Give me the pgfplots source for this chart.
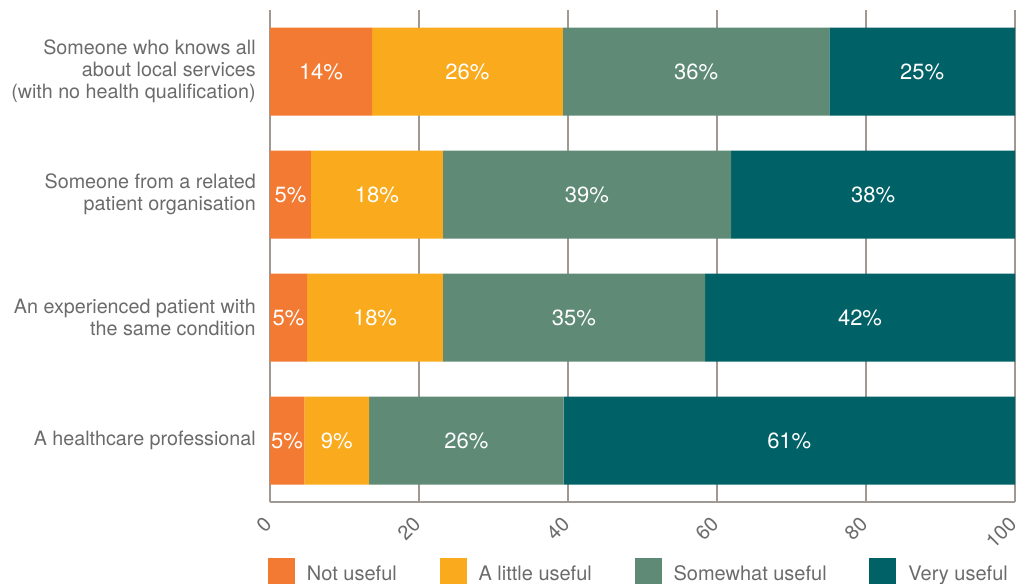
\documentclass[border=0pt]{standalone}
\usepackage{pgfplots}
\pgfplotsset{compat=1.18}
\usepackage{pgfplotstable}
\usepackage{fontspec}
\setmainfont{TeX Gyre Heros}
\definecolor{cOrange}{HTML}{F37A33}
\definecolor{cYellow}{HTML}{F9AB1D}
\definecolor{cGreen}{HTML}{5E8A76}
\definecolor{cTeal}{HTML}{006166}
\definecolor{cText}{HTML}{6B6B6B}
\definecolor{cGrid}{HTML}{A09893}

\pgfplotstableread{
y v lab
3 13.7 14
2 5.5 5
1 5.0 5
0 4.6 5
}\tA
\pgfplotstableread{
y v lab
3 25.6 26
2 17.7 18
1 18.2 18
0 8.7 9
}\tB
\pgfplotstableread{
y v lab
3 35.8 36
2 38.7 39
1 35.2 35
0 26.1 26
}\tC
\pgfplotstableread{
y v lab
3 24.9 25
2 38.1 38
1 41.6 42
0 60.6 61
}\tD

\begin{document}
\begin{tikzpicture}
\useasboundingbox (-202.5pt,-60.75pt) rectangle (571.5pt,376.5pt);
\begin{axis}[
  at={(0pt,0pt)}, anchor=south west,
  scale only axis, width=558.75pt, height=369pt,
  xbar stacked, bar width=66pt,
  xmin=0, xmax=100, ymin=-0.5, ymax=3.5,
  xtick={0,20,40,60,80,100}, ytick={0,1,2,3},
  yticklabels={A healthcare professional,
    An experienced patient with\\the same condition,
    Someone from a related\\patient organisation,
    Someone who knows all\\about local services\\(with no health qualification)},
  axis x line*=bottom, axis y line*=left,
  axis line style={cGrid, line width=1pt},
  xmajorgrids, grid style={cGrid, line width=1pt},
  major tick length=0pt,
  tick style={draw=none},
  /pgf/number format/assume math mode=true,
  xticklabel style={xshift=-1.5pt, yshift=-14pt, rotate=45, anchor=east, inner sep=0pt,
    font=\fontsize{15}{18}\selectfont, text=cText},
  yticklabel style={align=right, inner sep=0pt, xshift=-10.5pt,
    font=\fontsize{14.8}{16.5}\selectfont, text=cText},
  nodes near coords={\pgfplotspointmeta\%},
  point meta=explicit symbolic,
  nodes near coords align=center,
  every node near coord/.append style={anchor=center,
    text=white, font=\fontsize{16.5}{18}\selectfont},
  legend columns=4,
  legend image code/.code={\fill[#1] (0pt,-8.4pt) rectangle (20.25pt,11.9pt);},
  legend style={at={(0,0)}, anchor=north west, xshift=-1.5pt, yshift=-42pt,
    draw=none, fill=none, inner sep=0pt, outer sep=0pt,
    nodes={inner sep=0pt, text=cText, font=\fontsize{15}{18}\selectfont},
    /tikz/every odd column/.append style={column sep=9pt},
    /tikz/every even column/.append style={column sep=32pt}},
]
\addplot[fill=cOrange, draw=none] table[x=v,y=y,meta=lab]{\tA};
\addplot[fill=cYellow, draw=none] table[x=v,y=y,meta=lab]{\tB};
\addplot[fill=cGreen, draw=none] table[x=v,y=y,meta=lab]{\tC};
\addplot[fill=cTeal, draw=none] table[x=v,y=y,meta=lab]{\tD};
\legend{Not useful, A little useful, Somewhat useful, Very useful}
\end{axis}
\end{tikzpicture}
\end{document}
